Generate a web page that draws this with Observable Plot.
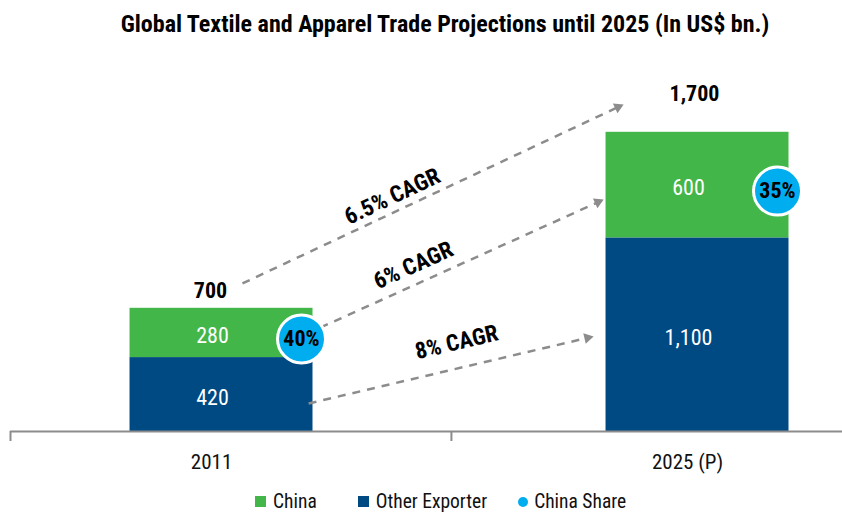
<!DOCTYPE html>
<html><head><meta charset="utf-8">
<script src="https://cdn.jsdelivr.net/npm/d3@7"></script>
<script src="https://cdn.jsdelivr.net/npm/@observablehq/plot@0.6"></script>
<style>
body{margin:0;background:#fff;font-family:Roboto,"Open Sans",sans-serif;font-stretch:condensed;color:#000;}
#title{width:842px;height:46px;line-height:48px;text-align:center;font-weight:bold;font-size:24px;padding-left:48px;box-sizing:border-box;white-space:nowrap;}
#chart svg{display:block;}
#legend{position:absolute;left:0;top:490px;width:842px;height:23px;display:flex;align-items:center;padding-left:255px;box-sizing:border-box;font-size:19.5px;line-height:23px;color:#111;}
#legend .it{display:flex;align-items:center;}
#legend .sw{width:11px;height:11px;margin-right:7px;}
#legend .dt{width:10px;height:10px;border-radius:50%;margin-right:6px;}
</style></head><body>
<div id="title">Global Textile and Apparel Trade Projections until 2025 (In US$ bn.)</div>
<div id="chart"></div>
<div id="legend"></div>
<script>
// ---- data ----
const years = ["2011", "2025 (P)"];
const china = [280, 600];
const other = [420, 1100];
const totals = [700, 1700];
const chinaShare = ["40%", "35%"];
const seriesNames = ["China", "Other Exporter"];
const shareName = "China Share";
const cagrLabels = ["6.5% CAGR", "6% CAGR", "8% CAGR"];
// growth arrows (x in category units, y in US$ bn.)
const arrowX1 = [0.044, 0.208, 0.183];
const arrowY1 = [841, 591, 159];
const arrowX2 = [0.833, 0.791, 0.769];
const arrowY2 = [1843, 1303, 532];
const cagrX = [0.359, 0.403, 0.494];
const cagrY = [1335, 943, 506];

// ---- styling ----
const green = "#43b649", blue = "#004a84", cyan = "#00aeef", gray = "#8c8c8c";
const W = 842, H = 440;
const xDomain = [-0.4433, 1.3046];
const yDomain = [0, 2000];
const mT = 33, mB = 55, mL = 10, mR = 0;
const hw = 0.1922;

const xs = Plot.scale({x: {domain: xDomain, range: [mL, W - mR]}});
const ys = Plot.scale({y: {domain: yDomain, range: [H - mB, mT]}});

const bars = [];
years.forEach((y, i) => {
  bars.push({year: y, i, series: "Other Exporter", y1: 0, y2: other[i], v: other[i]});
  bars.push({year: y, i, series: "China", y1: other[i], y2: other[i] + china[i], v: china[i]});
});
const yrs = years.map((y, i) => ({year: y, i, total: totals[i], share: chinaShare[i], mid: other[i] + china[i] / 2}));
const arrows = cagrLabels.map((l, k) => {
  const px = xs.apply(arrowX2[k]) - xs.apply(arrowX1[k]);
  const py = ys.apply(arrowY2[k]) - ys.apply(arrowY1[k]);
  const ang = Math.atan2(px, -py) * 180 / Math.PI;
  return {label: l, x1: arrowX1[k], y1: arrowY1[k], x2: arrowX2[k], y2: arrowY2[k], tx: cagrX[k], ty: cagrY[k], ang};
});

const plot = Plot.plot({
  width: W, height: H,
  marginTop: mT, marginBottom: mB, marginLeft: mL, marginRight: mR,
  style: "font-family: Roboto, 'Open Sans', sans-serif; font-stretch: condensed; background: white; overflow: visible;",
  x: {domain: xDomain, axis: null},
  y: {domain: yDomain, axis: null},
  color: {domain: seriesNames, range: [green, blue]},
  marks: [
    Plot.rectY(bars, {x1: d => d.i - hw, x2: d => d.i + hw, y1: "y1", y2: "y2", fill: "series"}),
    Plot.text(bars, {x: "i", y: d => (d.y1 + d.y2) / 2, text: d => d3.format(",")(d.v), fill: "white", fontSize: 22, dx: -9, dy: 3}),
    Plot.text(yrs.filter(d => d.i === 0), {x: "i", y: "total", text: d => d3.format(",")(d.total), fontSize: 22, fontWeight: "bold", dy: -17, dx: -11}),
    Plot.text(yrs.filter(d => d.i === 1), {x: "i", y: "total", text: d => d3.format(",")(d.total), fontSize: 22, fontWeight: "bold", dy: -38, dx: -3}),
    Plot.link(arrows, {x1: "x1", y1: "y1", x2: "x2", y2: "y2", stroke: gray, strokeWidth: 2.5, strokeDasharray: "8,7"}),
    Plot.dot(arrows, {x: "x2", y: "y2", symbol: "triangle", r: 4, fill: gray, stroke: "none", rotate: "ang"}),
    Plot.text(arrows, {x: "tx", y: "ty", text: "label", rotate: d => d.ang - 90, fontSize: 23, fontWeight: "bold"}),
    Plot.dot(yrs, {x: "i", y: "mid", r: 24, fill: cyan, stroke: "white", strokeWidth: 3, dx: 80, dy: 6}),
    Plot.text(yrs, {x: "i", y: "mid", text: "share", fontSize: 22, fontWeight: "bold", dx: 80, dy: 6}),
    Plot.ruleY([0], {stroke: gray, strokeWidth: 2}),
    Plot.axisX([xDomain[0], 0.483], {tickSize: 10, tickFormat: () => "", stroke: gray, strokeWidth: 2}),
    Plot.text(years, {x: (d, i) => i, y: 0, dy: 31, dx: -10, text: d => d, fontSize: 21, fill: "#111"})
  ]
});
document.getElementById("chart").appendChild(plot);

const lg = document.getElementById("legend");
const sw = [green, blue];
const gaps = [41, 31];
seriesNames.forEach((n, k) => {
  const it = document.createElement("div"); it.className = "it"; it.style.marginRight = gaps[k] + "px";
  it.innerHTML = `<span class="sw" style="background:${sw[k]}"></span><span>${n}</span>`;
  lg.appendChild(it);
});
const it = document.createElement("div"); it.className = "it";
it.innerHTML = `<span class="dt" style="background:${cyan}"></span><span>${shareName}</span>`;
lg.appendChild(it);
</script>
</body></html>
